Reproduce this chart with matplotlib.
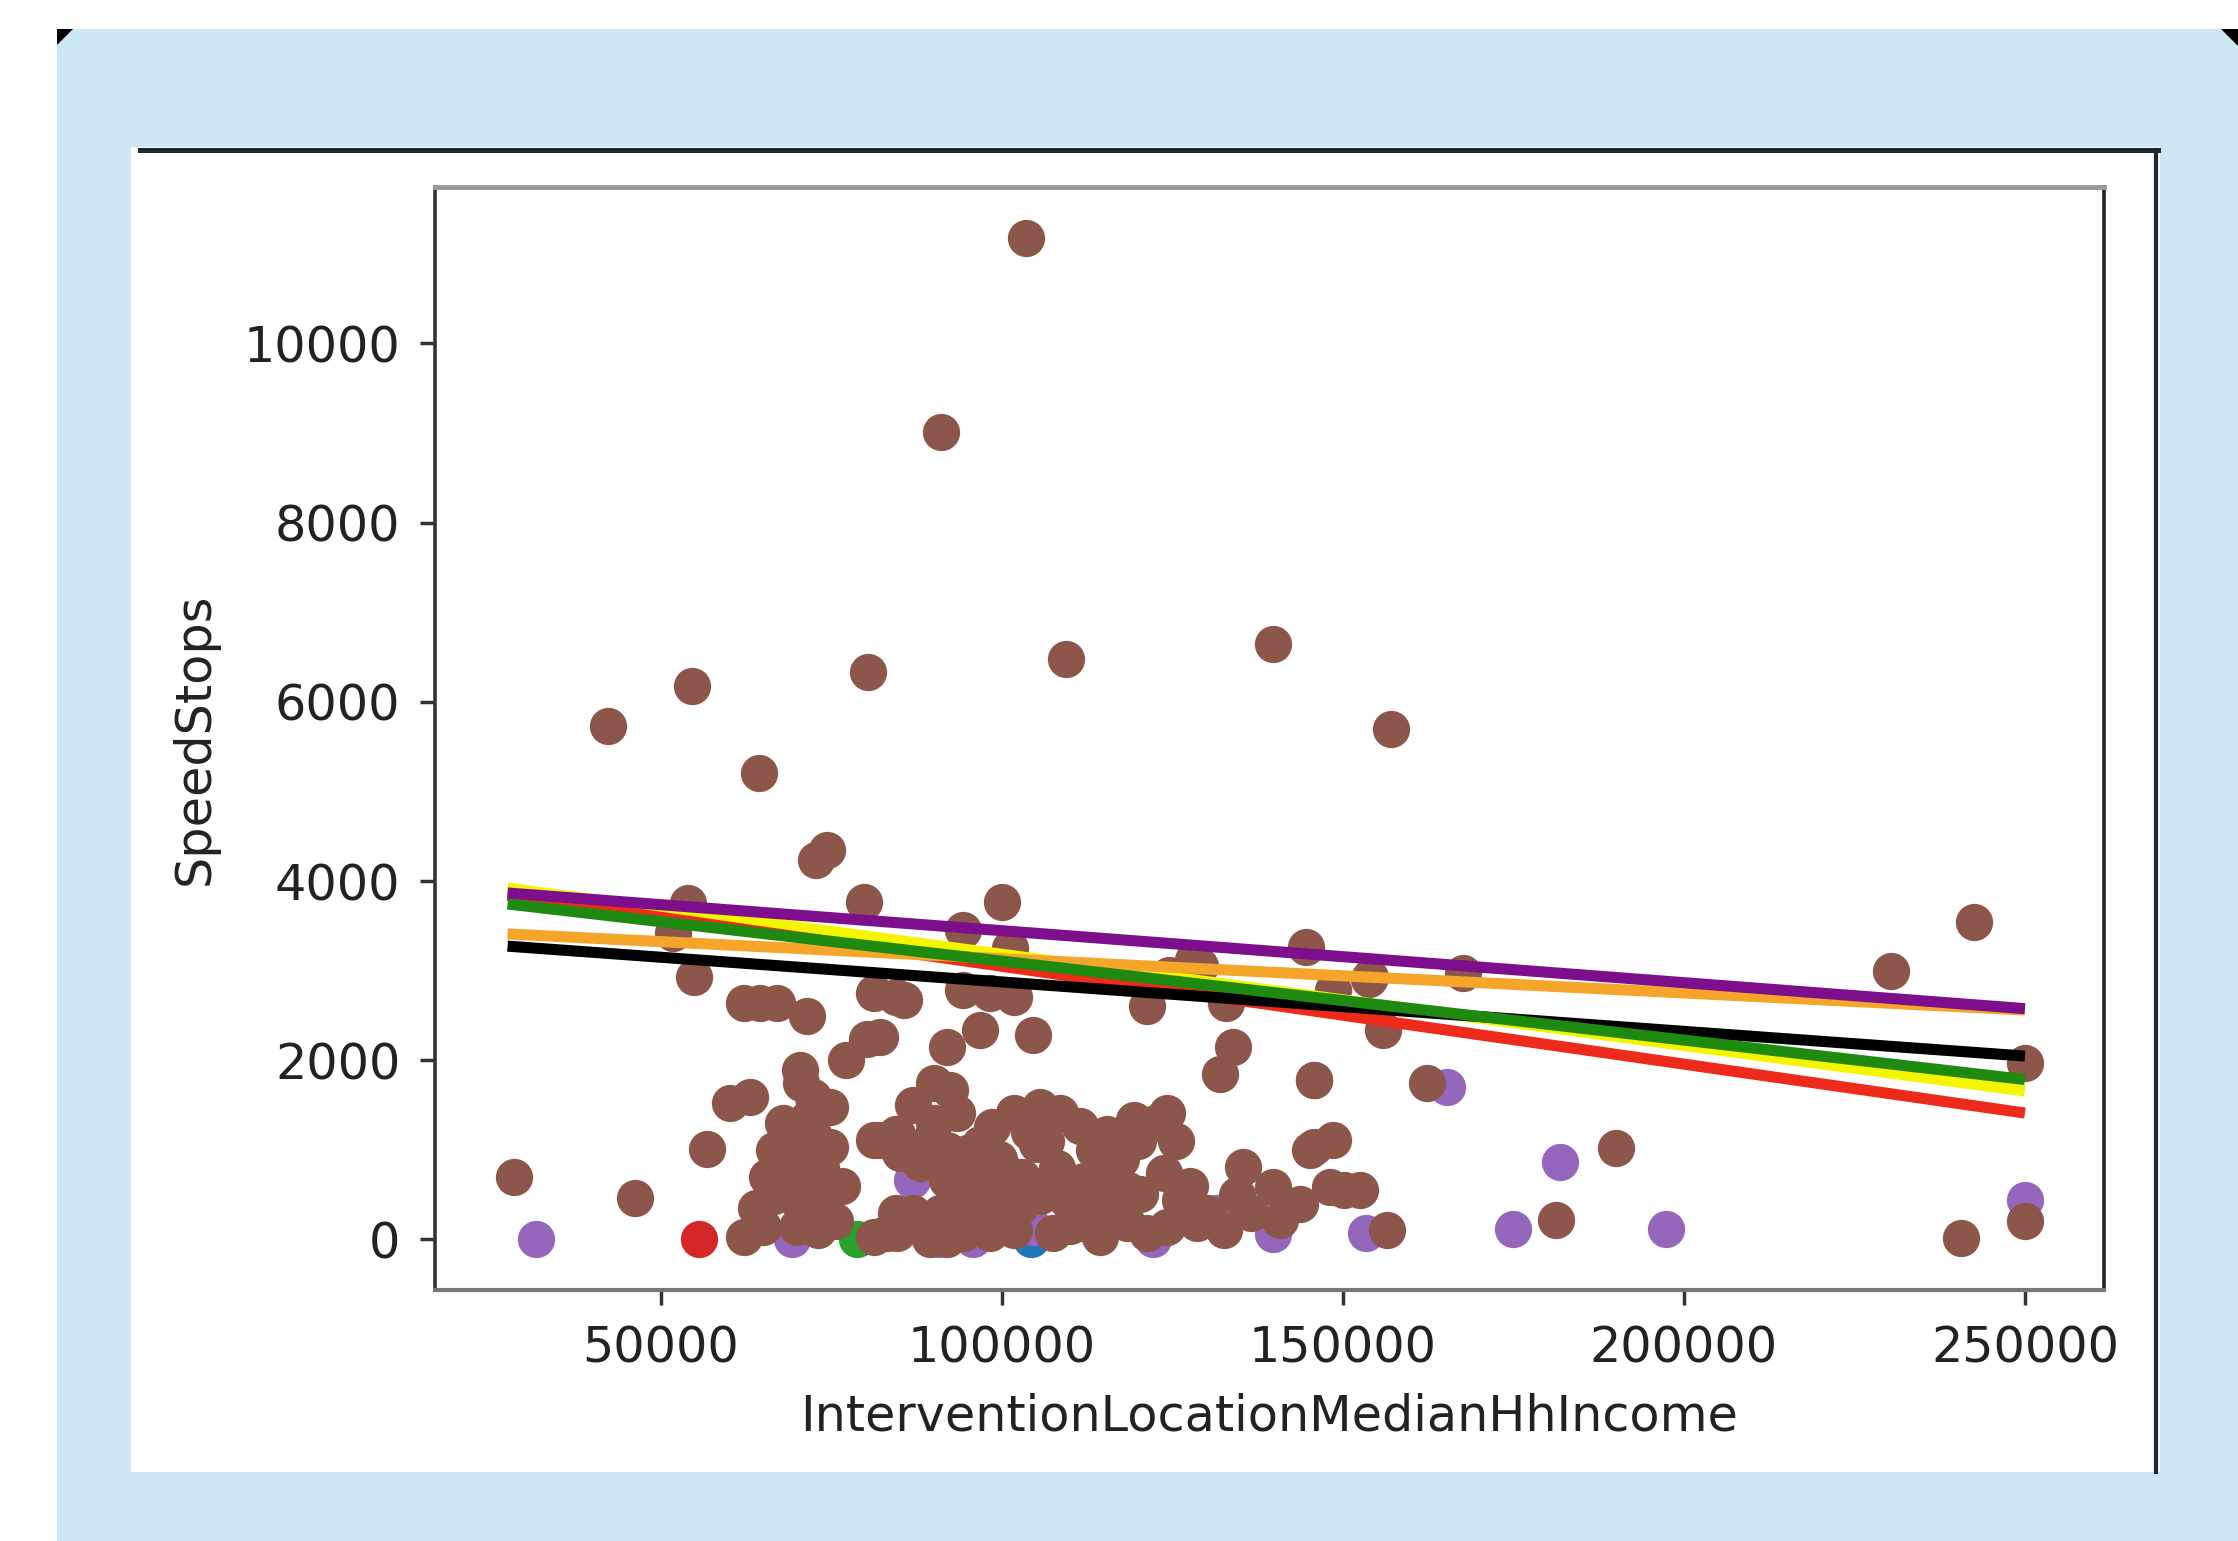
import matplotlib
matplotlib.use('Agg')
import matplotlib.pyplot as plt
from matplotlib.patches import Rectangle, Polygon
from matplotlib.lines import Line2D

# brown points (the main series)
brown_x = [103500, 91000, 139800, 109400, 80300, 54600, 42200, 157000, 64400, 74300, 72800,
           79700, 100000, 242500, 230400, 144600, 167600, 153800, 54000, 51800, 54800,
           28400, 46200, 56700, 62100, 65000, 69900, 81200, 84600,
           62100, 64500, 67000, 71400, 80200, 77200, 70400, 63100, 60100, 72300, 74800,
           67900, 69900, 74800, 67900, 70900, 69900, 70900, 81200, 84600, 81200, 85600,
           94300, 101200, 128000, 124500, 129000, 132900, 121200,
           84500, 94300, 98200, 101700, 96800, 104600, 82100, 91900, 133900, 132000, 145700,
           92400, 93400, 84500, 89400, 96800, 101700, 105600, 108500, 111400, 115400, 119300, 124200,
           84500, 88500, 91900, 94300, 98200, 101700, 96800, 99200, 105600, 109500, 113400, 116300,
           123700, 126100, 124200, 128600, 132500, 135400, 139800, 140800, 145700, 107500, 114400,
           111400, 118300, 82100, 85000, 87000, 90900, 83100, 89400, 91900, 94800, 100700, 96800,
           102600, 116300, 120200, 121200, 105100, 73800, 66500,
           154000, 148600, 155900, 145700, 162300, 148600, 145200, 150100, 148100, 152500, 156400,
           143700, 181300, 190100, 240600, 250000, 250000,
           70500, 71500, 72500, 73500, 72000, 71000, 73000, 75500, 76500, 68500, 66500, 65500, 64000,
           88000, 90000, 92000, 93500, 95000, 97500, 99500, 100500, 103000, 104000, 106500, 108000,
           110000, 112000, 113500, 117500, 118500, 120000, 122500, 125500, 127500, 130000, 134500,
           136500, 87000, 90000, 98500]
brown_y = [11180, 9010, 6650, 6480, 6330, 6180, 5730, 5700, 5200, 4350, 4235,
           3770, 3770, 3540, 3000, 3260, 2970, 2910, 3750, 3420, 2930,
           700, 460, 1010, 30, 140, 140, 30, 70,
           2640, 2640, 2640, 2490, 2240, 2000, 1890, 1590, 1520, 1590, 1480,
           1300, 1070, 1035, 850, 660, 440, 220, 1110, 1180, 2750, 2670,
           3450, 3250, 3120, 2950, 3050, 2640, 2600,
           2710, 2780, 2750, 2710, 2340, 2280, 2260, 2150, 2150, 1850, 1780,
           1670, 1410, 1180, 1110, 1070, 1410, 1480, 1410, 1260, 1180, 1330, 1410,
           290, 100, 660, 70, 70, 100, 740, 440, 480, 440, 480, 740,
           740, 440, 140, 180, 100, 810, 590, 220, 1035, 70, 30,
           180, 180, 1110, 960, 290, 290, 70, 0, 0, 960, 740, 290,
           370, 290, 510, 70, 1070, 370, 480,
           2930, 2780, 2340, 1780, 1740, 1110, 1000, 550, 590, 550, 100,
           400, 220, 1020, 20, 1970, 200,
           1750, 1350, 1150, 800, 550, 300, 100, 200, 600, 1200, 1000, 700, 350,
           850, 1300, 1000, 450, 150, 500, 900, 200, 700, 1200, 1100, 800,
           150, 650, 1000, 900, 550, 1100, 1300, 1100, 600, 300, 500,
           300, 1500, 1750, 1250]

purple_x = [31700, 69200, 86800, 90800, 95700, 104600, 116400, 122100, 131500, 139800,
            153400, 165300, 175000, 181800, 197400, 250000]
purple_y = [0, 0, 660, 0, 0, 140, 400, 0, 290, 60,
            70, 1700, 120, 860, 120, 440]

blue_x, blue_y = [104200], [0]
red_x, red_y = [55600], [0]
green_x, green_y = [78700], [0]

# fitted lines: value at the low and high end of income
line_x = [27500, 250000]
fits = {
    'yellow': [3920, 1656],
    'red': [3840, 1410],
    'orange': [3409, 2560],
    'black': [3273, 2046],
    'green': [3744, 1784],
    'purple': [3866, 2575],
}
fit_colors = {'yellow': '#f5f500', 'red': '#ee2a1b', 'orange': '#f4a52a',
              'black': '#000000', 'green': '#1e8a10', 'purple': '#7d0f8c'}

W, H = 2238, 1541
fig = plt.figure(figsize=(W / 100, H / 100), dpi=100, facecolor='white')

# light blue backdrop and white panel
fig.patches.append(Rectangle((57 / W, 0), 1 - 57 / W, 1 - 29 / H, transform=fig.transFigure,
                             facecolor='#cde8f5', edgecolor='none', zorder=0))
fig.patches.append(Rectangle((131 / W, 1 - 1472 / H), (2160 - 131) / W, (1472 - 147) / H,
                             transform=fig.transFigure, facecolor='white', edgecolor='none', zorder=1))
fig.lines.append(Line2D([140 / W, 2158 / W], [1 - 150 / H, 1 - 150 / H], transform=fig.transFigure,
                        color='#1c2833', lw=3.6, zorder=2))
fig.lines.append(Line2D([2156 / W, 2156 / W], [1 - 150 / H, 1 - 1472 / H], transform=fig.transFigure,
                        color='#1c2833', lw=3.0, zorder=2))
for pts in ([(57, 29), (73, 29), (57, 45)], [(2238, 29), (2221, 29), (2238, 46)]):
    fig.patches.append(Polygon([(px / W, 1 - py / H) for px, py in pts], closed=True,
                               transform=fig.transFigure, facecolor='black', edgecolor='none', zorder=2))

ax = fig.add_axes([435 / W, 1 - 1290 / H, (2104 - 435) / W, (1290 - 187) / H])
ax.set_zorder(3)

ax.scatter(blue_x, blue_y, s=720, color='#1f77b4', linewidths=0)
ax.scatter(green_x, green_y, s=720, color='#2ca02c', linewidths=0)
ax.scatter(red_x, red_y, s=720, color='#d62728', linewidths=0)
ax.scatter(purple_x, purple_y, s=720, color='#9467bd', linewidths=0)
ax.scatter(brown_x, brown_y, s=720, color='#8c564b', linewidths=0)

for name in ['yellow', 'red', 'orange', 'black', 'green', 'purple']:
    ax.plot(line_x, fits[name], color=fit_colors[name], lw=8, solid_capstyle='butt')

ax.set_xlim(16860, 261600)
ax.set_ylim(-565, 11746)
ax.set_xticks([50000, 100000, 150000, 200000, 250000])
ax.set_yticks([0, 2000, 4000, 6000, 8000, 10000])

ax.tick_params(length=11, width=2.5, pad=14, labelsize=35.5, color='#333333', labelcolor='#222222')
ax.set_xlabel('InterventionLocationMedianHhIncome', fontsize=35.5, color='#222222', labelpad=14)
ax.set_ylabel('SpeedStops', fontsize=35.5, color='#222222', labelpad=18)

ax.spines['top'].set_color('#999999')
ax.spines['top'].set_linewidth(3.5)
ax.spines['bottom'].set_color('#777777')
ax.spines['bottom'].set_linewidth(3)
ax.spines['left'].set_color('#333333')
ax.spines['left'].set_linewidth(2.6)
ax.spines['right'].set_color('#222222')
ax.spines['right'].set_linewidth(2.6)

fig.savefig('out.png', dpi=100, facecolor='white')
